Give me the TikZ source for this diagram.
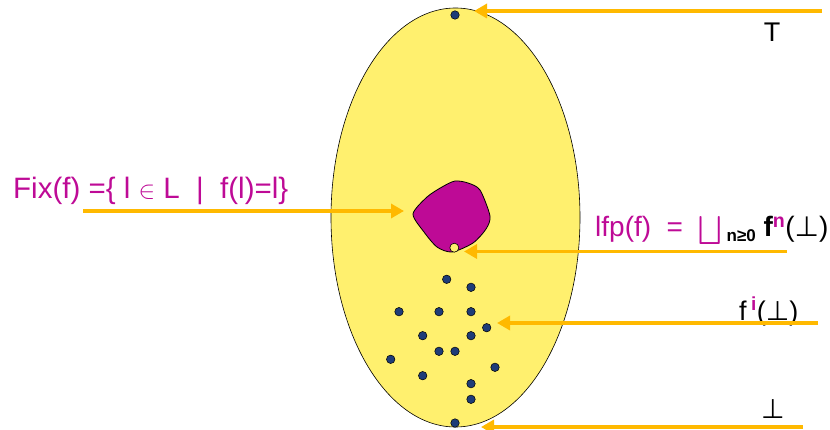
\documentclass[tikz,border=0pt]{standalone}
\usepackage{amsmath,amssymb}
\usepackage{fontspec}
\setmainfont{Liberation Sans}
\newfontfamily\symfont{DejaVu Sans}
\usepackage{xcolor}
\usetikzlibrary{arrows.meta}

\definecolor{latyellow}{RGB}{255,240,110}
\definecolor{fixmag}{RGB}{190,10,150}
\definecolor{arrorange}{RGB}{255,185,0}
\definecolor{dotblue}{RGB}{30,60,120}
\newcommand{\botsym}{{\symfont ⊥}}

\begin{document}
\begin{tikzpicture}[x=1pt,y=-1pt,
  every node/.style={font=\fontsize{27}{30}\selectfont},
  elem/.style={circle,fill=dotblue,draw=black,line width=0.5pt,inner sep=0pt,minimum size=8.5pt},
  pointer/.style={draw=arrorange,line width=3.5pt,-{Triangle[length=13pt,width=14pt,fill=arrorange]}}]
\useasboundingbox (0,0) rectangle (830,430);
% the lattice L
\draw[fill=latyellow,line width=0.6pt] (455.5,217.5) ellipse [x radius=124.5,y radius=209.5];
% fixed points
\draw[fill=fixmag,line width=0.8pt] plot[smooth cycle,tension=0.45] coordinates {
  (413,214) (427,197) (442,187) (455,181) (468,183) (480,190)
  (490,216) (486,229) (473,243) (452,252) (437,247) (424,232)};
\node[circle,fill=latyellow,draw=black,line width=0.6pt,inner sep=0pt,minimum size=9pt] (lfp) at (454.3,247.7) {};
% elements
\node[elem] (top) at (455,15) {};
\node[elem] (bot) at (455,423) {};
\foreach \x/\y [count=\i] in {446.7/279.3, 471/287.3, 399/311.7, 439/311.7, 471/311.7,
    486.7/327.7, 422.7/335.7, 471/335.7, 439/351.3, 455/351.3, 390.7/359.3,
    495/367.3, 422.7/375.7, 471/383.7, 471/399.3}
  \node[elem] (d\i) at (\x,\y) {};
% labels
\node[anchor=base] (toplab) at (772,42) {T};
\node[anchor=base west,inner sep=0pt,text=fixmag,font=\fontsize{29.5}{32}\selectfont] (fixlab) at (13,199)
  {Fix(f) =\{ l $\in$ L \ | \ f(l)=l\}};
\node[anchor=base west,inner sep=0pt,font=\fontsize{28}{30}\selectfont] (lfplab) at (595,237)
  {\textcolor{fixmag}{lfp(f) \ = \ $\bigsqcup$}\,{\fontsize{17}{20}\selectfont\bfseries \raisebox{-5pt}{n≥0}} {\bfseries f}\textsuperscript{\textcolor{fixmag}{\bfseries n}}(\botsym)};
\node[anchor=base west,inner sep=0pt] (filab) at (739,320)
  {f\,\textsuperscript{\textcolor{fixmag}{\bfseries i}}(\botsym)};
\node[anchor=base] (botlab) at (773,418) {\botsym};
% pointers
\coordinate (tS) at (822,11);   \coordinate (tE) at (474,11);
\coordinate (fS) at (83,211);   \coordinate (fE) at (404,211);
\coordinate (lS) at (787,251.5);\coordinate (lE) at (464,251.5);
\coordinate (iS) at (818,323);  \coordinate (iE) at (497,323);
\coordinate (bS) at (803,427);  \coordinate (bE) at (481,427);
\draw[pointer] (tS) -- (tE);
\draw[pointer] (fS) -- (fE);
\draw[pointer] (lS) -- (lE);
\draw[pointer] (iS) -- (iE);
\draw[pointer] (bS) -- (bE);
\end{tikzpicture}
\end{document}
